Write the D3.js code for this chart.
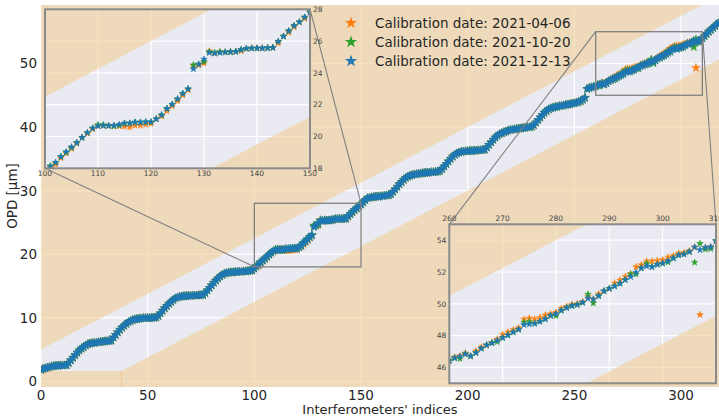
<!DOCTYPE html>
<html>
<head>
<meta charset="utf-8">
<script src="https://cdn.jsdelivr.net/npm/d3@7"></script>
<style>
  body { margin: 0; background: #fff; }
  text { font-family: "DejaVu Sans", sans-serif; }
</style>
</head>
<body>
<script>
// ---- data ----
// blue series (2021-12-13), one value per interferometer index 0..318
const blueOPD = [
  1.8,1.95,2.05,2.15,2.25,2.35,2.4,2.45,2.45,2.5,2.5,2.5,2.55,            // 0-12
  2.9,3.3,3.7,4.1,4.5,4.85,5.15,5.4,5.65,5.85,                           // 13-22
  5.95,6.0,6.05,6.1,6.15,6.2,6.25,6.3,6.3,6.35,6.4,                      // 23-33
  6.9,7.3,7.7,8.1,8.45,8.75,9.05,9.3,9.5,9.65,9.75,9.8,                  // 34-45
  9.85,9.9,9.95,9.95,9.95,9.95,10.0,10.0,10.05,10.3,                     // 46-55
  10.7,11.1,11.5,11.85,12.2,12.5,12.8,13.05,13.2,13.3,                   // 56-65
  13.35,13.4,13.4,13.45,13.45,13.5,13.5,13.5,13.55,13.55,13.6,13.9,      // 66-77
  14.3,14.7,15.1,15.5,15.85,16.2,16.5,16.75,16.95,17.05,17.1,            // 78-88
  17.15,17.15,17.2,17.2,17.25,17.25,17.3,17.3,17.35,17.4,17.45,17.75,    // 89-100
  18.1,18.36,18.73,19.03,19.34,19.61,19.93,20.24,20.52,20.66,            // 101-110
  20.68,20.68,20.7,20.75,20.83,20.83,20.89,20.89,20.91,20.91,            // 111-120
  21.1,21.35,21.75,22.02,22.36,22.7,22.99,24.25,24.54,24.86,             // 121-130
  25.27,25.23,25.27,25.3,25.32,25.34,25.46,25.53,25.55,25.55,            // 131-140
  25.55,25.57,25.59,25.97,26.3,26.64,26.97,27.2,27.5,27.81,              // 141-150
  28.15,28.5,28.8,28.9,28.95,29.0,29.05,29.05,29.1,29.15,29.2,29.25,29.3,29.45, // 151-164
  29.8,30.2,30.6,31.0,31.35,31.7,32.0,32.2,32.35,32.45,32.55,            // 165-175
  32.6,32.65,32.7,32.75,32.8,32.8,32.85,32.9,32.9,32.95,33.0,33.1,       // 176-187
  33.4,33.8,34.2,34.6,35.0,35.35,35.65,35.85,36.0,36.1,                  // 188-197
  36.15,36.2,36.2,36.25,36.25,36.3,36.3,36.35,36.35,36.4,36.45,          // 198-208
  36.8,37.2,37.6,38.0,38.35,38.65,38.9,39.05,39.2,39.3,39.45,            // 209-219
  39.55,39.6,39.65,39.7,39.75,39.8,39.85,39.9,39.95,40.0,40.05,40.3,     // 220-231
  40.7,41.1,41.5,41.9,42.25,42.55,42.8,42.95,43.05,43.15,                // 232-241
  43.2,43.3,43.35,43.4,43.5,43.55,43.6,43.7,43.75,43.85,43.95,44.1,44.3,44.6, // 242-255
  46.0,46.15,46.25,46.35,                                                // 256-259
  46.42,46.59,46.69,46.84,46.71,46.92,47.19,47.4,47.53,47.7,             // 260-269
  47.86,48.03,48.22,48.39,48.68,48.72,48.76,48.89,49.04,49.25,           // 270-279
  49.37,49.58,49.75,49.87,49.94,50.08,50.34,50.29,50.5,50.8,             // 280-289
  50.96,51.11,51.28,51.51,51.7,51.97,52.24,52.37,52.32,52.47,            // 290-299
  52.55,52.7,52.87,53.06,53.12,53.27,53.56,53.39,53.54,53.58,53.96,      // 300-310
  54.3,54.65,55.0,55.3,55.6,55.9,56.2,56.5                               // 311-318
];

// orange (2021-04-06) and green (2021-10-20): same as blue except these [index, value]
const orangeDiffers = [
  [101,18.02],[102,18.24],[103,18.65],[104,18.95],[105,19.24],[106,19.56],[108,20.19],[109,20.47],
  [113,20.65],[114,20.65],[115,20.63],[116,20.58],[117,20.69],[118,20.69],[119,20.76],[120,20.81],
  [122,21.27],[123,21.6],[124,21.92],[125,22.24],[126,22.6],[127,22.93],[128,24.45],[129,24.49],
  [130,24.61],[131,25.37],[133,25.32],[137,25.38],[144,25.87],[146,26.54],[147,26.89],[149,27.42],
  [261,46.65],[262,46.73],[263,46.9],[265,47.03],[266,47.28],[268,47.57],[269,47.78],
  [270,48.07],[271,48.22],[272,48.37],[273,48.49],[274,49.02],[275,49.1],[276,49.04],[277,49.14],
  [278,49.29],[279,49.37],[280,49.46],[281,49.71],[282,49.83],[283,49.96],[284,50.0],[285,50.13],
  [286,50.46],[288,50.63],[291,51.3],[292,51.49],[293,51.72],[294,51.9],[295,52.32],
  [296,52.45],[297,52.68],[298,52.68],[299,52.72],[300,52.76],[301,52.93],[302,53.02],[303,53.18],
  [304,53.22],[305,53.33],[307,49.31]
];
const greenDiffers = [
  [101,18.15],[104,19.0],[105,19.29],[110,20.74],[111,20.73],[113,20.65],[114,20.7],[128,24.5],
  [130,24.71],[131,25.32],[132,25.28],[133,25.32],[150,27.91],
  [260,46.46],[262,46.55],[269,47.61],[274,48.83],[275,48.87],[280,49.25],[286,50.6],[287,50.04],
  [294,51.86],[295,51.86],[297,52.53],[300,52.53],[301,52.62],[306,52.6],[307,53.79],[308,53.43],
  [309,53.46]
];

const seriesNames = ["Calibration date: 2021-04-06", "Calibration date: 2021-10-20", "Calibration date: 2021-12-13"];
const seriesColors = ["#ff7f0e", "#2ca02c", "#1f77b4"];

// tolerance band around the nominal OPD
const bandSlope = 0.175, bandHalf = 5, bandFloor = 1.6;

const mainXTicks = [0, 50, 100, 150, 200, 250, 300];
const mainYTicks = [0, 10, 20, 30, 40, 50];
const zoom1 = { x: [100, 150], y: [18, 28], xTicks: [100,110,120,130,140,150], yTicks: [18,20,22,24,26,28] };
const zoom2 = { x: [260, 310], y: [45, 55], xTicks: [260,270,280,290,300,310], yTicks: [46,48,50,52,54] };

// ---- build series ----
function withDiffs(diffs) {
  const v = blueOPD.slice();
  diffs.forEach(d => { v[d[0]] = d[1]; });
  return v;
}
const allSeries = [withDiffs(orangeDiffers), withDiffs(greenDiffers), blueOPD].map((vals, k) =>
  vals.map((v, i) => ({ i: i, v: v, k: k })));

const W = 719, H = 416;
const svg = d3.select("body").append("svg").attr("width", W).attr("height", H);

const x = d3.scaleLinear().domain([0, 317.8]).range([41, 719]);
const y = d3.scaleLinear().domain([-0.9, 59.2]).range([387, 5]);

let clipCount = 0;
function drawPanel(g, xs, ys, xTicks, yTicks, starSize) {
  const [x0, x1] = xs.domain(), [y0, y1] = ys.domain();
  const id = "clip" + (clipCount++);
  g.append("clipPath").attr("id", id).append("rect")
    .attr("x", xs(x0)).attr("y", ys(y1)).attr("width", xs(x1) - xs(x0)).attr("height", ys(y0) - ys(y1));
  const c = g.append("g").attr("clip-path", "url(#" + id + ")");
  c.append("rect").attr("x", xs(x0)).attr("y", ys(y1))
    .attr("width", xs(x1) - xs(x0)).attr("height", ys(y0) - ys(y1)).attr("fill", "#eaeaf2");

  c.selectAll(".vg").data(xTicks).join("line")
    .attr("x1", d => xs(d)).attr("x2", d => xs(d)).attr("y1", ys(y0)).attr("y2", ys(y1))
    .attr("stroke", "#fff").attr("stroke-width", 1.2);
  c.selectAll(".hg").data(yTicks).join("line")
    .attr("y1", d => ys(d)).attr("y2", d => ys(d)).attr("x1", xs(x0)).attr("x2", xs(x1))
    .attr("stroke", "#fff").attr("stroke-width", 1.2);

  // tan regions outside the band
  const up = [[x0, bandSlope * x0 + bandHalf], [x1, bandSlope * x1 + bandHalf], [x1, y1 + 20], [x0, y1 + 20]];
  const corner = (bandFloor + bandHalf) / bandSlope;
  const low = (xx) => Math.max(bandSlope * xx - bandHalf, bandFloor);
  const lowPts = [[x0, y0 - 5], [x0, low(x0)]];
  if (corner > x0 && corner < x1) lowPts.push([corner, bandFloor]);
  lowPts.push([x1, low(x1)], [x1, y0 - 5]);
  const line = d3.line().x(d => xs(d[0])).y(d => ys(d[1]));
  [up, lowPts].forEach(p => {
    c.append("path").attr("d", line(p) + "Z")
      .attr("fill", "rgb(241,209,153)").attr("fill-opacity", 0.62);
  });
  if (corner > x0 && corner < x1) {
    c.append("line").attr("x1", xs(corner)).attr("x2", xs(corner))
      .attr("y1", ys(y0)).attr("y2", ys(bandFloor))
      .attr("stroke", "rgb(240,190,120)").attr("stroke-opacity", 0.6).attr("stroke-width", 1);
  }

  const star = d3.symbol(d3.symbolStar, starSize);
  allSeries.forEach((s, k) => {
    c.append("g").selectAll("path")
      .data(s.filter(d => d.i >= x0 - 1 && d.i <= x1 + 1))
      .join("path")
      .attr("d", star)
      .attr("transform", d => "translate(" + xs(d.i) + "," + ys(d.v) + ")")
      .attr("fill", seriesColors[k])
      .attr("stroke", seriesColors[k]).attr("stroke-width", 0.6);
  });
}

// ---- main panel ----
const main = svg.append("g");
drawPanel(main, x, y, mainXTicks, mainYTicks, 22);

main.selectAll(".xt").data(mainXTicks).join("text")
  .attr("x", d => x(d)).attr("y", 400).attr("text-anchor", "middle")
  .attr("font-size", "13.5px").attr("fill", "#262626").text(d => d);
main.selectAll(".yt").data(mainYTicks).join("text")
  .attr("x", 37).attr("y", d => y(d) + 5).attr("text-anchor", "end")
  .attr("font-size", "13.5px").attr("fill", "#262626").text(d => d);

svg.append("text").attr("x", 380).attr("y", 414).attr("text-anchor", "middle")
  .attr("font-size", "13px").attr("fill", "#262626").text("Interferometers' indices");
svg.append("text").attr("transform", "translate(17,196) rotate(-90)").attr("text-anchor", "middle")
  .attr("font-size", "13.5px").attr("fill", "#262626").text("OPD [µm]");

// ---- zoom rectangles, connectors and insets ----
const insets = [
  { z: zoom1, box: [45, 9.3, 310, 168.3], links: [[0, 0], [1, 1]], xTop: false, yRight: true },
  { z: zoom2, box: [449.3, 224.3, 716, 383.3], links: [[0, 1], [1, 1]], xTop: true, yRight: false }
];

insets.forEach(ins => {
  const z = ins.z, b = ins.box;
  main.append("rect")
    .attr("x", x(z.x[0])).attr("y", y(z.y[1]))
    .attr("width", x(z.x[1]) - x(z.x[0])).attr("height", y(z.y[0]) - y(z.y[1]))
    .attr("fill", "none").attr("stroke", "#808080").attr("stroke-width", 1.3);
  ins.links.forEach(l => {
    // l = [xSide 0 left/1 right, ySide 0 bottom/1 top]
    const mx = x(z.x[l[0]]), my = y(z.y[l[1]]);
    const ix = l[0] ? b[2] : b[0], iy = l[1] ? b[1] : b[3];
    svg.append("line").attr("x1", mx).attr("y1", my).attr("x2", ix).attr("y2", iy)
      .attr("stroke", "#808080").attr("stroke-width", 1.1);
  });
});

insets.forEach(ins => {
  const z = ins.z, b = ins.box;
  const xs = d3.scaleLinear().domain(z.x).range([b[0], b[2]]);
  const ys = d3.scaleLinear().domain(z.y).range([b[3], b[1]]);
  const g = svg.append("g");
  drawPanel(g, xs, ys, z.xTicks, z.yTicks, 13);
  g.append("rect").attr("x", b[0]).attr("y", b[1]).attr("width", b[2] - b[0]).attr("height", b[3] - b[1])
    .attr("fill", "none").attr("stroke", "#8a8a8a").attr("stroke-width", 2);
  g.selectAll(".ixt").data(z.xTicks).join("text")
    .attr("x", d => xs(d)).attr("y", ins.xTop ? b[1] - 3 : b[3] + 8)
    .attr("text-anchor", "middle").attr("font-size", "7.5px").attr("fill", "#444").text(d => d);
  g.selectAll(".iyt").data(z.yTicks).join("text")
    .attr("x", ins.yRight ? b[2] + 3 : b[0] - 3).attr("y", d => ys(d) + 2.7)
    .attr("text-anchor", ins.yRight ? "start" : "end")
    .attr("font-size", "7.5px").attr("fill", "#444").text(d => d);
});

// ---- legend ----
const legend = svg.append("g");
seriesNames.forEach((name, k) => {
  const ly = 23 + k * 19;
  legend.append("path").attr("d", d3.symbol(d3.symbolStar, 48)())
    .attr("transform", "translate(351," + ly + ")").attr("fill", seriesColors[k]);
  legend.append("text").attr("x", 375).attr("y", ly + 5)
    .attr("font-size", "13.5px").attr("fill", "#262626").text(name);
});
</script>
</body>
</html>
